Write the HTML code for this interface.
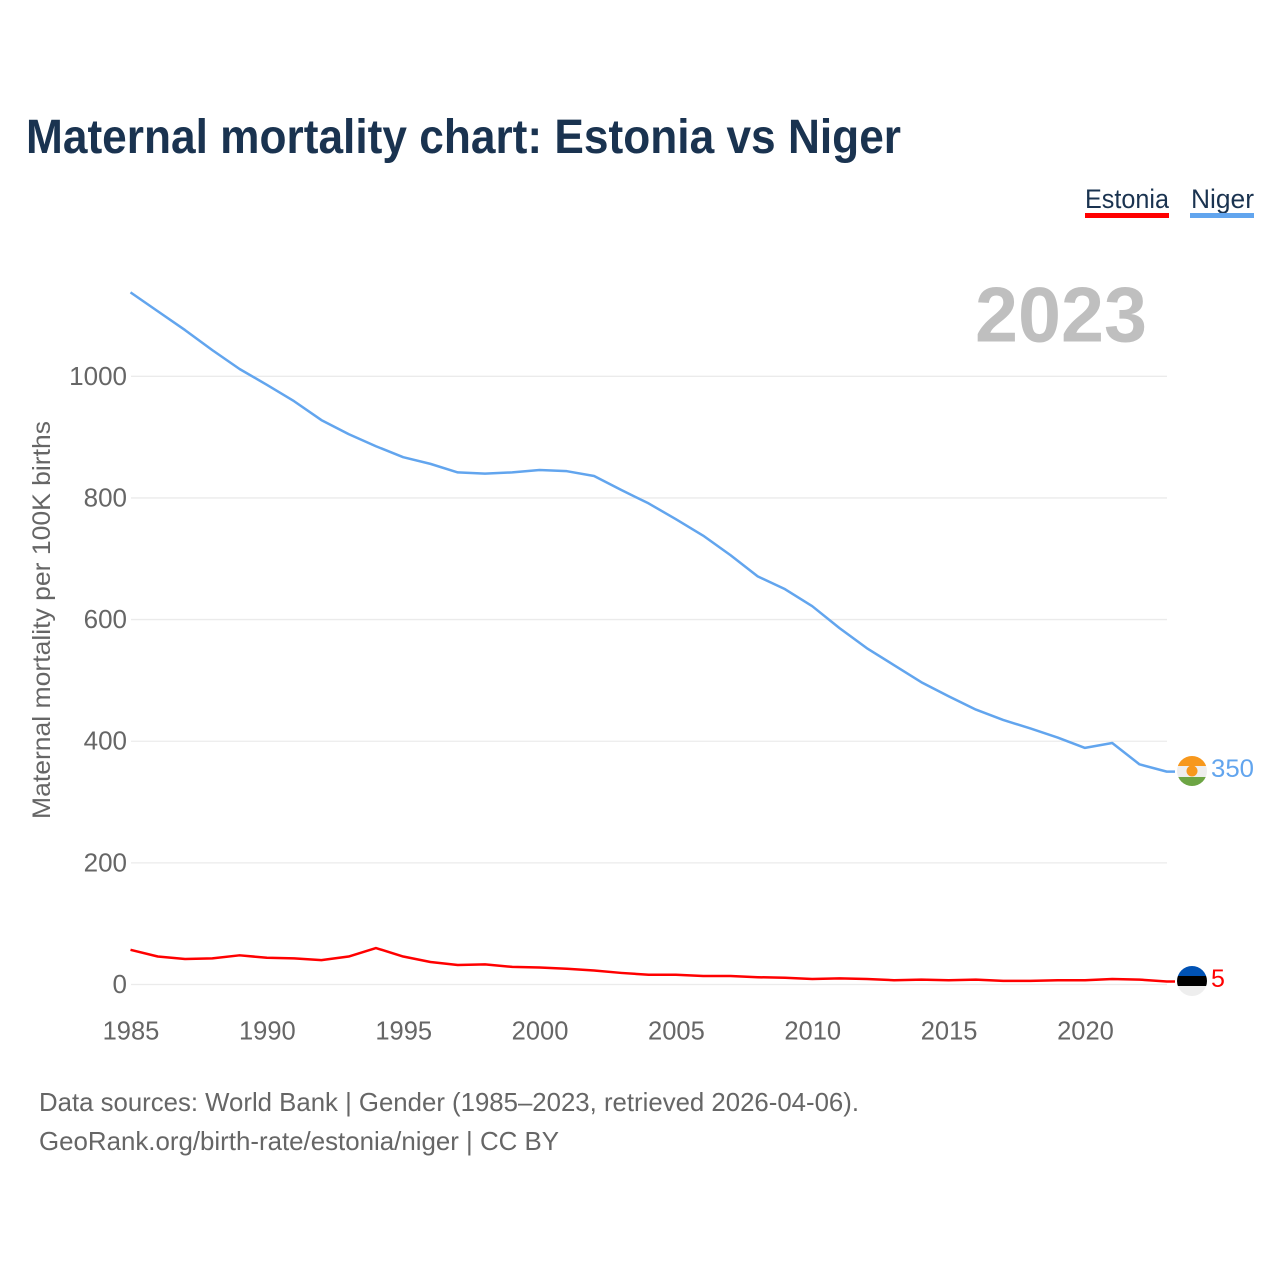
<!DOCTYPE html>
<html lang="en">
<head>
<meta charset="utf-8">
<title>Maternal mortality chart: Estonia vs Niger</title>
<style>
html,body{margin:0;padding:0;background:#fff;}
svg{display:block;font-family:"Liberation Sans",sans-serif;}
</style>
</head>
<body>
<svg id="chart" width="1280" height="1280" viewBox="0 0 1280 1280" xmlns="http://www.w3.org/2000/svg">
  <rect x="0" y="0" width="1280" height="1280" fill="#fff"/>
  <text x="26" y="153" font-size="48" font-weight="700" fill="#1a3350" textLength="875" lengthAdjust="spacingAndGlyphs">Maternal mortality chart: Estonia vs Niger</text>

  <g>
    <g>
      <text x="1085" y="208" font-size="27" fill="#1a3350" textLength="84" lengthAdjust="spacingAndGlyphs">Estonia</text>
      <rect x="1085" y="213" width="84" height="5" fill="#ff0000"/>
    </g>
    <g>
      <text x="1191" y="208" font-size="27" fill="#1a3350" textLength="63" lengthAdjust="spacingAndGlyphs">Niger</text>
      <rect x="1190" y="213" width="64" height="5" fill="#62a5ee"/>
    </g>
  </g>

  <text x="1147" y="341.5" font-size="78" font-weight="700" fill="#bfbfbf" text-anchor="end" textLength="172" lengthAdjust="spacingAndGlyphs">2023</text>

  <g id="grid"></g>
  <g id="yticks"></g>
  <g id="xticks"></g>

  <text transform="translate(50,620) rotate(-90)" font-size="25" fill="#666" text-anchor="middle" textLength="398" lengthAdjust="spacingAndGlyphs">Maternal mortality per 100K births</text>

  <g id="series"></g>

  <g id="flag-niger">
    <clipPath id="clip-niger"><circle cx="1192" cy="771" r="15"/></clipPath>
    <g clip-path="url(#clip-niger)">
      <rect x="1177" y="756" width="30" height="10" fill="#f7981d"/>
      <rect x="1177" y="766" width="30" height="11" fill="#eeeeee"/>
      <rect x="1177" y="777" width="30" height="9" fill="#6da544"/>
      <circle cx="1192" cy="771" r="5.5" fill="#f7981d"/>
    </g>
  </g>
  <g id="flag-estonia">
    <clipPath id="clip-estonia"><circle cx="1192" cy="981" r="15"/></clipPath>
    <g clip-path="url(#clip-estonia)">
      <rect x="1177" y="966" width="30" height="10" fill="#0052b4"/>
      <rect x="1177" y="976" width="30" height="10" fill="#000000"/>
      <rect x="1177" y="986" width="30" height="10" fill="#eeeeee"/>
    </g>
  </g>
  <text id="value-niger" x="1211" y="777" font-size="25" fill="#62a5ee" textLength="43" lengthAdjust="spacingAndGlyphs">350</text>
  <text id="value-estonia" x="1211" y="987" font-size="25" fill="#ff0000">5</text>

  <text x="39" y="1111" font-size="26" fill="#666" textLength="820" lengthAdjust="spacingAndGlyphs">Data sources: World Bank | Gender (1985–2023, retrieved 2026-04-06).</text>
  <text x="39" y="1150" font-size="26" fill="#666" textLength="520" lengthAdjust="spacingAndGlyphs">GeoRank.org/birth-rate/estonia/niger | CC BY</text>
</svg>
<script>
const years = [1985,1986,1987,1988,1989,1990,1991,1992,1993,1994,1995,1996,1997,1998,1999,2000,2001,2002,2003,2004,2005,2006,2007,2008,2009,2010,2011,2012,2013,2014,2015,2016,2017,2018,2019,2020,2021,2022,2023];
const nigerValues = [1138,1107,1076,1043,1012,986,959,928,905,885,867,856,842,840,842,846,844,836,813,791,765,738,706,671,650,622,586,553,525,497,474,452,435,421,406,389,397,362,350];
const estoniaValues = [57,46,42,43,48,44,43,40,46,60,46,37,32,33,29,28,26,23,19,16,16,14,14,12,11,9,10,9,7,8,7,8,6,6,7,7,9,8,5];
const yTickValues = [0,200,400,600,800,1000];
const xTickValues = [1985,1990,1995,2000,2005,2010,2015,2020];

const NS = 'http://www.w3.org/2000/svg';
const xScale = function (year) { return 130.5 + (year - 1985) * 27.27; };
const yScale = function (value) { return 984.5 - value * 0.6082; };

const grid = document.getElementById('grid');
const yticks = document.getElementById('yticks');
const xticks = document.getElementById('xticks');
const seriesGroup = document.getElementById('series');

yTickValues.forEach(function (v) {
  const line = document.createElementNS(NS, 'line');
  
  
  line.setAttribute('x1', 131);
  line.setAttribute('x2', 1167);
  line.setAttribute('y1', yScale(v));
  line.setAttribute('y2', yScale(v));
  line.setAttribute('stroke', '#ebebeb');
  line.setAttribute('stroke-width', '1.3');
  grid.appendChild(line);

  const label = document.createElementNS(NS, 'text');
  
  
  label.setAttribute('x', 127);
  label.setAttribute('y', yScale(v) + 8.5);
  label.setAttribute('font-size', '26');
  label.setAttribute('fill', '#666');
  label.setAttribute('text-anchor', 'end');
  label.textContent = v;
  yticks.appendChild(label);
});

xTickValues.forEach(function (y) {
  const label = document.createElementNS(NS, 'text');
  
  
  label.setAttribute('x', 131 + (y - 1985) * 27.27);
  label.setAttribute('y', 1039.5);
  label.setAttribute('font-size', '25.5');
  label.setAttribute('fill', '#666');
  label.setAttribute('text-anchor', 'middle');
  label.textContent = y;
  xticks.appendChild(label);
});

function buildPath(values) {
  let d = values.map(function (v, i) {
    return (i ? 'L' : 'M') + xScale(years[i]).toFixed(2) + ' ' + yScale(v).toFixed(2);
  }).join(' ');
  d += ' H 1175';
  return d;
}

const nigerLine = document.createElementNS(NS, 'path');


nigerLine.setAttribute('d', buildPath(nigerValues));
nigerLine.setAttribute('fill', 'none');
nigerLine.setAttribute('stroke', '#62a5ee');
nigerLine.setAttribute('stroke-width', '2.5');
nigerLine.setAttribute('stroke-linejoin', 'round');
seriesGroup.appendChild(nigerLine);

const estoniaLine = document.createElementNS(NS, 'path');


estoniaLine.setAttribute('d', buildPath(estoniaValues));
estoniaLine.setAttribute('fill', 'none');
estoniaLine.setAttribute('stroke', '#ff0000');
estoniaLine.setAttribute('stroke-width', '2.5');
estoniaLine.setAttribute('stroke-linejoin', 'round');
seriesGroup.appendChild(estoniaLine);
</script>
</body>
</html>
